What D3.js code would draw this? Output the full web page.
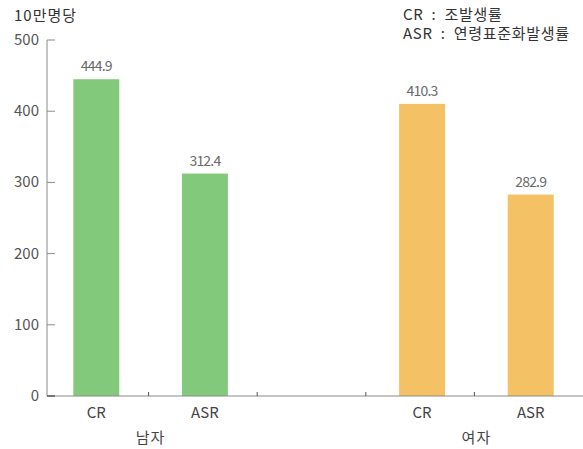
<!DOCTYPE html>
<html>
<head>
<meta charset="utf-8">
<script src="https://cdn.jsdelivr.net/npm/d3@7"></script>
<style>
  body { margin: 0; background: #fff; }
  text { font-family: "Noto Sans CJK KR", "Noto Sans", sans-serif; }
</style>
</head>
<body>
<svg width="583" height="449"></svg>
<script>
// data
const slots = ['CR_m', 'ASR_m', 'gap', 'CR_f', 'ASR_f'];
const labels = {CR_m: 'CR', ASR_m: 'ASR', CR_f: 'CR', ASR_f: 'ASR'};
const values = [444.9, 312.4, 410.3, 282.9];
const barKeys = ['CR_m', 'ASR_m', 'CR_f', 'ASR_f'];
const groups = [{name: '남자', keys: ['CR_m', 'ASR_m']}, {name: '여자', keys: ['CR_f', 'ASR_f']}];
const yTicks = [0, 100, 200, 300, 400, 500];
const legendLines = ['CR  :  조발생률', 'ASR  :  연령표준화발생률'];

const colors = {CR_m: '#82c97c', ASR_m: '#82c97c', CR_f: '#f5c165', ASR_f: '#f5c165'};

const svg = d3.select('svg');
const axisLeftX = 47, axisRight = 583, baseY = 396;

//--------------SCALES-----------------------
const x = d3.scaleBand().domain(slots).range([40, 583]).paddingInner(0);
const y = d3.scaleLinear().domain([0, 500]).range([baseY, 40]);
const barW = 46;
const mid = k => x(k) + x.bandwidth() / 2 + 2;

//--------------BARS-------------------------
const bars = barKeys.map((k, i) => ({key: k, value: values[i]}));

svg.append('g').selectAll('rect')
  .data(bars)
  .enter().append('rect')
    .attr('x', d => mid(d.key) - barW / 2)
    .attr('y', d => y(d.value))
    .attr('width', barW)
    .attr('height', d => baseY - y(d.value))
    .attr('fill', d => colors[d.key]);

svg.append('g').selectAll('text')
  .data(bars)
  .enter().append('text')
    .attr('x', d => mid(d.key))
    .attr('y', d => y(d.value) - 8)
    .attr('text-anchor', 'middle')
    .attr('font-size', 14)
    .attr('letter-spacing', '-0.8px')
    .attr('fill', '#6a6a6a')
    .text(d => d.value.toFixed(1));

//--------------Y AXIS-----------------------
const yAxis = svg.append('g').attr('transform', `translate(${axisLeftX},0)`);
yAxis.append('line')
  .attr('y1', y(500)).attr('y2', baseY)
  .attr('stroke', '#8a8a8a');
yAxis.selectAll('.tk').data(yTicks).enter().append('line')
  .attr('x1', 0).attr('x2', 8)
  .attr('y1', d => y(d)).attr('y2', d => y(d))
  .attr('stroke', d => d === 0 ? '#333' : '#8a8a8a')
  .attr('stroke-width', d => d === 0 ? 1.5 : 1);
yAxis.selectAll('text').data(yTicks).enter().append('text')
  .attr('x', -8).attr('y', d => y(d) + 5)
  .attr('text-anchor', 'end')
  .attr('font-size', 15)
  .attr('fill', '#555')
  .text(d => d);

svg.append('text')
  .attr('x', 14).attr('y', 21)
  .attr('font-size', 15)
  .attr('letter-spacing', '1px')
  .attr('fill', '#333')
  .text('10만명당');

//--------------X AXIS-----------------------
svg.append('line')
  .attr('x1', axisLeftX).attr('x2', axisRight)
  .attr('y1', baseY).attr('y2', baseY)
  .attr('stroke', '#8a8a8a');
svg.append('g').selectAll('line')
  .data(slots.slice(1))
  .enter().append('line')
    .attr('x1', d => x(d)).attr('x2', d => x(d))
    .attr('y1', baseY - 4).attr('y2', baseY)
    .attr('stroke', '#555');
svg.append('g').selectAll('text')
  .data(barKeys)
  .enter().append('text')
    .attr('x', d => mid(d))
    .attr('y', 418)
    .attr('text-anchor', 'middle')
    .attr('font-size', 15)
    .attr('fill', '#444')
    .text(d => labels[d]);
svg.append('g').selectAll('text')
  .data(groups)
  .enter().append('text')
    .attr('x', d => (mid(d.keys[0]) + mid(d.keys[1])) / 2)
    .attr('y', 443)
    .attr('text-anchor', 'middle')
    .attr('font-size', 15)
    .attr('letter-spacing', '1px')
    .attr('fill', '#444')
    .text(d => d.name);

//--------------LEGEND-----------------------
svg.append('g').selectAll('text')
  .data(legendLines)
  .enter().append('text')
    .attr('x', 403)
    .attr('y', (d, i) => 20 + i * 19)
    .attr('font-size', 15)
    .attr('letter-spacing', '0.7px')
    .attr('fill', '#333')
    .style('white-space', 'pre')
    .text(d => d);
</script>
</body>
</html>
